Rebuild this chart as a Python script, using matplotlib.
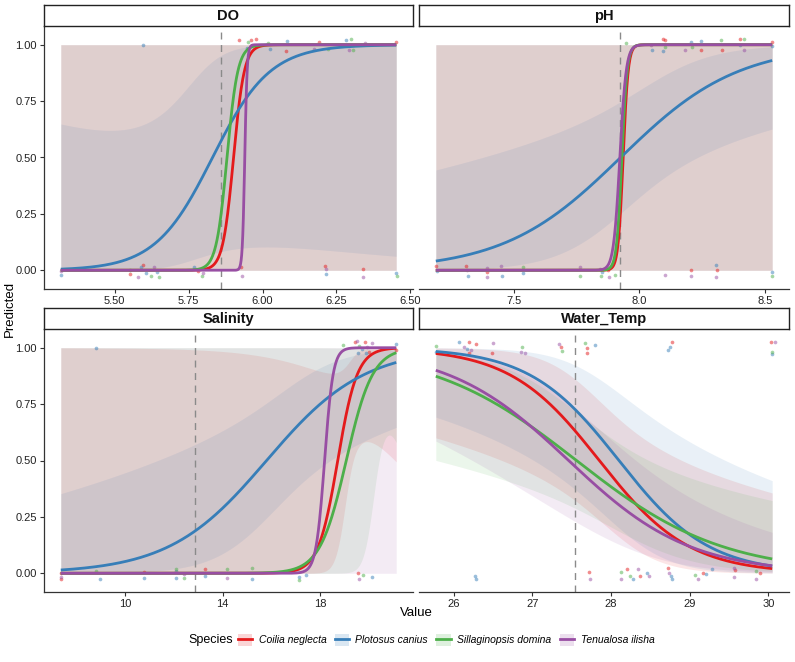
import numpy as np
import matplotlib
matplotlib.use("Agg")
import matplotlib.pyplot as plt
from matplotlib.patches import Patch
from matplotlib.lines import Line2D

plt.rcParams['font.family'] = ['Liberation Sans', 'DejaVu Sans']

# ---------------- data ----------------
species = ["Coilia neglecta", "Plotosus canius", "Sillaginopsis domina", "Tenualosa ilisha"]
colors = ["#E41A1C", "#377EB8", "#4DAF4A", "#984EA3"]
panels = ["DO", "pH", "Salinity", "Water_Temp"]

# observed value range of each variable
x_min = [5.318, 7.191, 7.356, 25.77]
x_max = [6.452, 8.527, 21.12, 30.05]
# threshold (dashed line)
threshold = [5.86, 7.924, 12.85, 27.54]

# fitted logistic model per panel: midpoint and slope (per species)
DO_mid = [5.902, 5.831, 5.880, 5.940]
DO_slope = [55.0, 10.3, 55.0, 250.0]
pH_mid = [7.935, 7.925, 7.930, 7.922]
pH_slope = [100.0, 4.3, 95.0, 80.0]
Sal_mid = [18.72, 15.8, 19.07, 18.18]
Sal_slope = [2.5, 0.5, 1.85, 5.7]
WT_mid = [27.85, 28.10, 27.56, 27.46]
WT_slope = [-1.75, -1.75, -1.08, -1.30]

# standard error of linear predictor: se^2 = a + b (x - c)^2
DO_se_a = [1e4, 1.4, 1e4, 1e4]
DO_se_b = [0.0, 41.0, 0.0, 0.0]
DO_se_c = [5.9, 5.75, 5.9, 5.9]
pH_se_a = [1e4, 0.29, 1e4, 1e4]
pH_se_b = [0.0, 2.98, 0.0, 0.0]
pH_se_c = [7.9, 8.0, 7.9, 7.9]
Sal_se_a = [0.6, 0.31, 1.6, 1e4]
Sal_se_b = [2.4, 0.037, 4.0, 0.0]
Sal_se_c = [19.2, 16.5, 20.5, 18.0]
WT_se_a = [0.36, 0.49, 0.2, 0.3]
WT_se_b = [0.52, 0.46, 0.17, 0.13]
WT_se_c = [27.9, 28.0, 27.9, 27.9]

# observed presence/absence points (jittered positions as read), species index
DO_pts_x = [5.318, 5.318, 5.551, 5.553, 5.579, 5.590, 5.596, 5.607, 5.624, 5.632, 5.643, 5.650,
            5.768, 5.782, 5.795, 5.800, 5.927, 5.931, 6.210, 6.213, 6.215, 6.339, 6.341, 6.452, 6.454,
            5.596, 5.920, 5.947, 5.962, 5.979, 5.950, 6.018, 6.024, 6.082, 6.080, 6.173, 6.192, 6.220,
            6.283, 6.300, 6.292, 6.307, 6.345, 6.452]
DO_pts_y = [-0.022, -0.003, -0.018, 0.0, -0.030, 0.015, 0.022, -0.012, -0.024, 0.015, -0.007, -0.028,
            0.015, -0.003, -0.027, -0.012, 0.015, -0.024, 0.018, 0.007, -0.018, 0.004, -0.030, -0.012, -0.027,
            1.0, 1.022, 0.987, 1.022, 1.025, 1.012, 1.007, 0.982, 1.015, 0.972, 0.982, 1.012, 0.979,
            1.022, 1.025, 0.975, 0.978, 1.007, 1.013]
DO_pts_s = [1, 3, 0, 2, 3, 1, 0, 1, 2, 3, 1, 2,
            1, 0, 2, 3, 0, 3, 0, 3, 1, 0, 3, 1, 2,
            1, 0, 1, 0, 0, 2, 2, 1, 1, 0, 3, 0, 2,
            1, 2, 3, 2, 3, 0]

pH_pts_x = [7.191, 7.194, 7.310, 7.314, 7.317, 7.393, 7.394, 7.393, 7.451, 7.454, 7.536, 7.538,
            7.765, 7.765, 7.845, 7.850, 7.847, 7.874, 7.877, 7.904, 8.102, 8.203, 8.206, 8.305,
            8.308, 8.305, 8.527, 8.528,
            7.947, 8.046, 8.049, 8.093, 8.103, 8.100, 8.093, 8.179, 8.206, 8.209, 8.245, 8.245,
            8.325, 8.329, 8.398, 8.415, 8.398, 8.414, 8.527, 8.527]
pH_pts_y = [0.021, -0.003, 0.018, 0.0, -0.024, 0.012, -0.007, -0.030, 0.021, -0.024, 0.015, -0.012,
            0.015, -0.027, 0.007, -0.007, -0.024, 0.0, -0.030, -0.022, -0.022, 0.003, -0.027, 0.022,
            0.003, -0.030, -0.007, -0.024,
            1.009, 1.0, 0.978, 1.027, 1.022, 0.990, 0.972, 0.978, 1.012, 0.990, 1.016, 0.975,
            1.022, 0.975, 1.027, 1.027, 0.997, 0.975, 1.012, 0.993]
pH_pts_s = [0, 1, 0, 3, 1, 3, 0, 3, 3, 1, 2, 1,
            3, 2, 3, 1, 2, 0, 3, 2, 3, 0, 3, 1,
            0, 3, 1, 2,
            2, 3, 1, 0, 0, 2, 1, 3, 1, 2, 1, 0,
            2, 0, 0, 2, 1, 3, 0, 1]

Sal_pts_x = [7.356, 7.356, 7.380, 8.82, 8.95, 10.77, 10.77, 12.07, 12.10, 12.07, 12.41, 12.41,
             13.26, 13.26, 14.17, 14.17, 15.21, 15.21, 17.15, 17.15, 17.40, 19.54, 19.58, 19.77, 20.11,
             8.82, 18.93, 19.41, 19.50, 19.61, 19.72, 19.82, 19.88, 19.92, 20.02, 20.11, 19.54, 21.12, 21.12]
Sal_pts_y = [0.0, -0.015, -0.024, 0.010, -0.027, 0.006, -0.019, 0.021, 0.010, -0.019, -0.004, -0.019,
             0.018, -0.012, 0.021, -0.019, 0.025, -0.027, -0.015, -0.030, -0.006, 0.003, -0.024, -0.009, -0.016,
             1.0, 1.012, 1.027, 1.030, 1.007, 0.993, 1.025, 0.975, 1.004, 0.982, 1.022, 0.975, 1.016, 0.990]
Sal_pts_s = [0, 3, 0, 2, 1, 0, 1, 2, 1, 1, 3, 2,
             0, 1, 2, 3, 2, 1, 1, 2, 1, 0, 3, 2, 1,
             1, 2, 0, 3, 2, 1, 0, 1, 3, 0, 3, 1, 1, 0]

WT_pts_x = [25.77, 25.77, 26.06, 26.19, 26.13, 26.17, 26.22, 26.19, 26.28, 26.50, 26.48, 26.87, 26.86,
            26.90, 27.34, 27.36, 27.37, 27.67, 27.69, 27.70, 27.79, 28.78, 28.75, 28.73, 30.03, 30.08,
            30.05, 30.05,
            26.27, 26.28, 27.72, 27.73, 28.13, 28.13, 28.20, 28.24, 28.28, 28.34, 28.37, 28.46, 28.48,
            28.72, 28.74, 28.76, 28.77, 29.07, 29.10, 29.17, 29.21, 29.28, 29.56, 29.58, 29.56, 29.84,
            29.90, 29.85]
WT_pts_y = [1.007, 0.982, 1.027, 1.027, 1.004, 0.993, 0.990, 0.975, 1.016, 1.019, 0.978, 1.004, 0.982,
            0.978, 1.015, 1.004, 0.987, 1.022, 0.997, 0.975, 1.012, 1.024, 1.004, 0.990, 1.027, 1.027,
            0.982, 0.970,
            -0.012, -0.024, 0.006, -0.024, 0.006, -0.027, 0.018, -0.012, -0.027, 0.021, -0.012, 0.0, -0.012,
            0.025, 0.003, -0.012, -0.024, -0.009, -0.027, 0.003, -0.004, 0.018, 0.025, 0.015, -0.016, 0.010,
            0.003, -0.027]
WT_pts_s = [2, 1, 1, 0, 3, 1, 3, 0, 0, 3, 0, 2, 3,
            3, 3, 0, 2, 2, 0, 0, 1, 0, 1, 1, 0, 3,
            2, 1,
            1, 1, 0, 3, 2, 3, 0, 2, 1, 3, 0, 1, 3,
            0, 3, 1, 1, 2, 3, 0, 1, 1, 3, 0, 3, 2,
            0, 3]

x_ticks = [[5.50, 5.75, 6.00, 6.25, 6.50], [7.5, 8.0, 8.5], [10, 14, 18], [26, 27, 28, 29, 30]]
x_tick_labels = [["5.50", "5.75", "6.00", "6.25", "6.50"], ["7.5", "8.0", "8.5"],
                 ["10", "14", "18"], ["26", "27", "28", "29", "30"]]
y_ticks = [0.0, 0.25, 0.5, 0.75, 1.0]
y_tick_labels = ["0.00", "0.25", "0.50", "0.75", "1.00"]

mids = [DO_mid, pH_mid, Sal_mid, WT_mid]
slopes = [DO_slope, pH_slope, Sal_slope, WT_slope]
se_a = [DO_se_a, pH_se_a, Sal_se_a, WT_se_a]
se_b = [DO_se_b, pH_se_b, Sal_se_b, WT_se_b]
se_c = [DO_se_c, pH_se_c, Sal_se_c, WT_se_c]
pts_x = [DO_pts_x, pH_pts_x, Sal_pts_x, WT_pts_x]
pts_y = [DO_pts_y, pH_pts_y, Sal_pts_y, WT_pts_y]
pts_s = [DO_pts_s, pH_pts_s, Sal_pts_s, WT_pts_s]


def inv_logit(z):
    z = np.clip(z, -500, 500)
    return 1.0 / (1.0 + np.exp(-z))


# ---------------- layout ----------------
W, H = 795, 662
fig = plt.figure(figsize=(W / 100, H / 100), dpi=100)


def fr(x0, y0, x1, y1):
    return [x0 / W, 1 - y1 / H, (x1 - x0) / W, (y1 - y0) / H]


panel_px = [(44, 26, 413, 289), (419, 26, 789, 289), (44, 329, 413, 592), (419, 329, 789, 592)]
strip_px = [(44, 5, 413, 26), (419, 5, 789, 26), (44, 308, 413, 329), (419, 308, 789, 329)]

RIB_ALPHA = 0.11
axis_col = "#333333"

for i, name in enumerate(panels):
    ax = fig.add_axes(fr(*panel_px[i]))
    xs = np.linspace(x_min[i], x_max[i], 600)
    rng = x_max[i] - x_min[i]
    # ribbons
    for s in range(4):
        eta = slopes[i][s] * (xs - mids[i][s])
        se = np.sqrt(se_a[i][s] + se_b[i][s] * (xs - se_c[i][s]) ** 2)
        ax.fill_between(xs, inv_logit(eta - 1.96 * se), inv_logit(eta + 1.96 * se),
                        color=colors[s], alpha=RIB_ALPHA, lw=0, zorder=1)
    # threshold
    ax.axvline(threshold[i], color="#8a8a8a", lw=1.0, dashes=(5, 4), zorder=2)
    # points
    px = np.array(pts_x[i]); py = np.array(pts_y[i]); ps = np.array(pts_s[i])
    for s in range(4):
        m = ps == s
        ax.scatter(px[m], py[m], s=7, color=colors[s], alpha=0.5, lw=0, zorder=3)
    # curves
    for s in range(4):
        eta = slopes[i][s] * (xs - mids[i][s])
        ax.plot(xs, inv_logit(eta), color=colors[s], lw=2.0, zorder=4, solid_capstyle="butt")

    ax.set_xlim(x_min[i] - 0.05 * rng, x_max[i] + 0.05 * rng)
    ax.set_ylim(-0.083, 1.083)
    ax.set_xticks(x_ticks[i])
    ax.set_xticklabels(x_tick_labels[i])
    ax.spines["top"].set_visible(False)
    ax.spines["right"].set_visible(False)
    ax.spines["bottom"].set_color(axis_col)
    ax.spines["bottom"].set_linewidth(0.9)
    ax.tick_params(axis="x", length=3, width=0.8, color=axis_col, labelsize=8, labelcolor="#222222", pad=2)
    if i % 2 == 0:
        ax.set_yticks(y_ticks)
        ax.set_yticklabels(y_tick_labels)
        ax.spines["left"].set_color(axis_col)
        ax.spines["left"].set_linewidth(0.9)
        ax.tick_params(axis="y", length=3, width=0.8, color=axis_col, labelsize=8, labelcolor="#222222", pad=2)
    else:
        ax.spines["left"].set_visible(False)
        ax.set_yticks([])
    ax.set_facecolor("none")

    # strip
    sax = fig.add_axes(fr(*strip_px[i]))
    sax.set_xticks([]); sax.set_yticks([])
    for sp in sax.spines.values():
        sp.set_color("#222222"); sp.set_linewidth(1.0)
    sax.text(0.5, 0.48, name, ha="center", va="center", fontsize=10.5, fontweight="bold",
             transform=sax.transAxes, color="#111111")

fig.text(416.5 / W, 1 - 613 / H, "Value", ha="center", va="center", fontsize=9.5)
fig.text(10 / W, 1 - 309 / H, "Predicted", ha="center", va="center", rotation=90, fontsize=9.5)

handles = [(Patch(facecolor=c, alpha=0.18, lw=0), Line2D([], [], color=c, lw=2)) for c in colors]
leg = fig.legend(handles, species, loc="center", bbox_to_anchor=(446 / W, 1 - 640 / H), ncol=4,
                 frameon=False, handlelength=1.4, handleheight=1.3, handletextpad=0.6,
                 columnspacing=0.8, borderpad=0.2, prop={"style": "italic", "size": 7.5})
fig.canvas.draw()
bb = leg.get_window_extent()
fig.text((bb.x0 - 3) / W, 1 - 640 / H, "Species", ha="right", va="center", fontsize=9)

fig.savefig("out.png", dpi=100)
